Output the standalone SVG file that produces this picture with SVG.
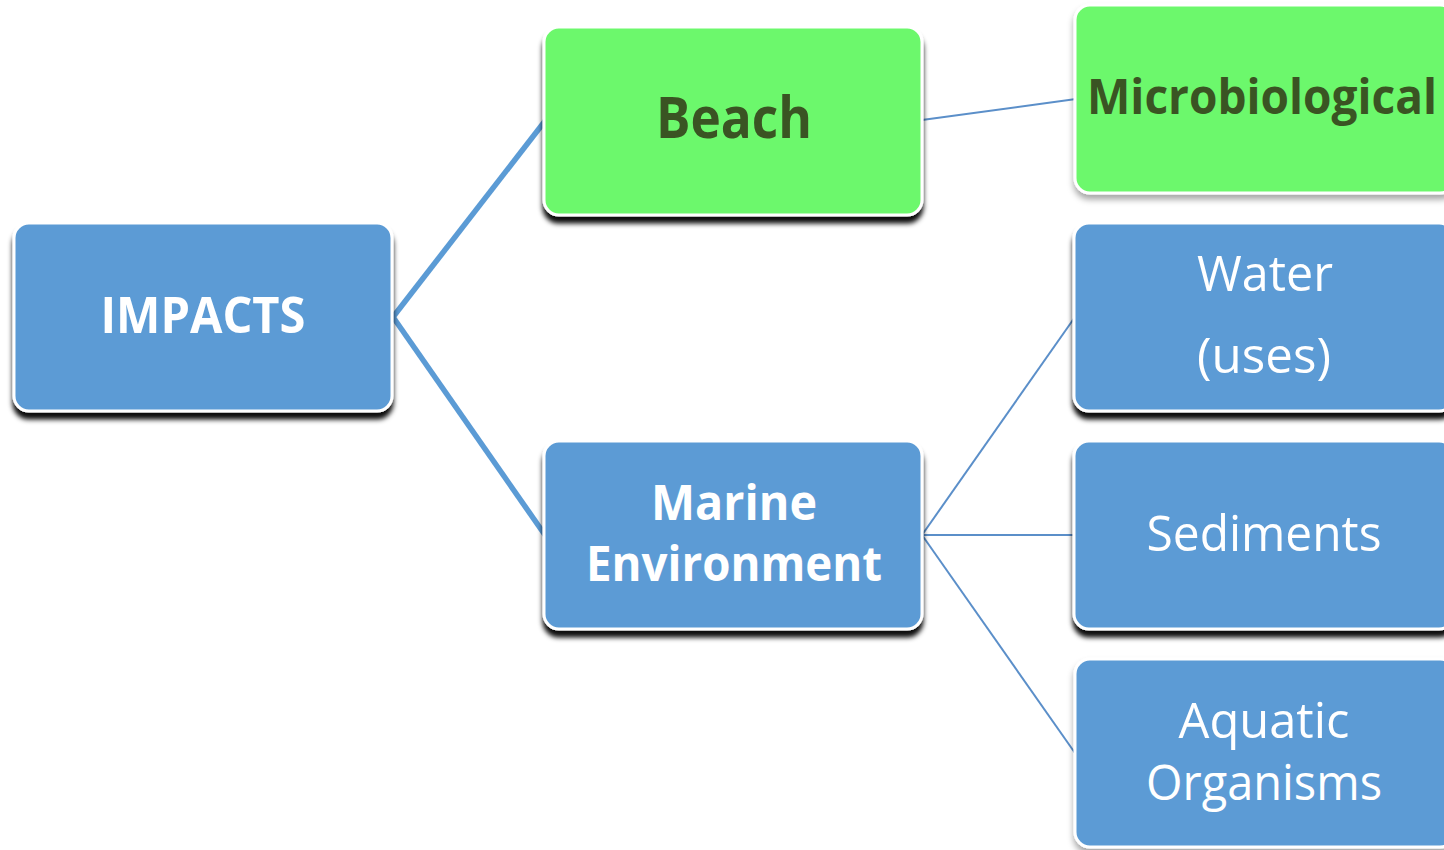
<svg xmlns="http://www.w3.org/2000/svg" width="1444" height="850" viewBox="0 0 1444 850">
<defs>
<filter id="sh" x="-10%" y="-10%" width="120%" height="130%">
<feDropShadow dx="0" dy="7" stdDeviation="2.5" flood-color="#000" flood-opacity="0.95"/>
</filter>
<filter id="shl" x="-10%" y="-10%" width="120%" height="130%">
<feDropShadow dx="0" dy="5" stdDeviation="3" flood-color="#000" flood-opacity="0.35"/>
</filter>
</defs>
<style>
.blue{fill:#5B9BD5;stroke:#fff;stroke-width:3}
.green{fill:#6CF86C;stroke:#fff;stroke-width:3}
.tw{fill:#fff;font-family:"Open Sans","Liberation Sans",sans-serif;text-anchor:middle}
.tg{fill:#3A5423;font-family:"Open Sans","Liberation Sans",sans-serif;text-anchor:middle;font-weight:bold}
.b{font-weight:bold}
.thick{stroke:#5B9BD5;stroke-width:5.5;fill:none}
.thin{stroke:#5B8FC9;stroke-width:2;fill:none}
</style>
<rect width="1444" height="850" fill="#fff"/>
<g id="connectors">
<line class="thick" x1="393" y1="317" x2="545" y2="121"/>
<line class="thick" x1="393" y1="317" x2="545" y2="535"/>
<line class="thin" x1="922" y1="120" x2="1076" y2="99"/>
<line class="thin" x1="922" y1="535" x2="1075" y2="317"/>
<line class="thin" x1="922" y1="535" x2="1075" y2="535"/>
<line class="thin" x1="922" y1="535" x2="1075" y2="753"/>
</g>
<g id="impacts">
<rect class="blue" x="14" y="223" width="378" height="188" rx="15" filter="url(#sh)"/>
<text class="tw b" x="203" y="333" font-size="50" textLength="205" lengthAdjust="spacingAndGlyphs">IMPACTS</text>
</g>
<g id="beach">
<rect class="green" x="544" y="27" width="378" height="188" rx="15" filter="url(#sh)"/>
<text class="tg" x="734" y="138" font-size="58" textLength="156" lengthAdjust="spacingAndGlyphs">Beach</text>
</g>
<g id="marine">
<rect class="blue" x="544" y="441" width="378" height="188" rx="15" filter="url(#sh)"/>
<text class="tw b" x="734" y="520" font-size="48" textLength="166" lengthAdjust="spacingAndGlyphs">Marine</text>
<text class="tw b" x="734" y="581" font-size="48" textLength="296" lengthAdjust="spacingAndGlyphs">Environment</text>
</g>
<g id="microbiological">
<rect class="green" x="1075" y="5" width="380" height="188" rx="15" filter="url(#shl)"/>
<text class="tg" x="1262" y="114" font-size="49" textLength="350" lengthAdjust="spacingAndGlyphs">Microbiological</text>
</g>
<g id="water">
<rect class="blue" x="1074" y="223" width="380" height="188" rx="15" filter="url(#sh)"/>
<text class="tw" x="1265" y="291" font-size="49" textLength="136" lengthAdjust="spacingAndGlyphs">Water</text>
<text class="tw" x="1264" y="373" font-size="49" textLength="134" lengthAdjust="spacingAndGlyphs">(uses)</text>
</g>
<g id="sediments">
<rect class="blue" x="1074" y="441" width="380" height="188" rx="15" filter="url(#sh)"/>
<text class="tw" x="1264" y="551" font-size="49" textLength="235" lengthAdjust="spacingAndGlyphs">Sediments</text>
</g>
<g id="aquatic">
<rect class="blue" x="1075" y="659" width="380" height="188" rx="15" filter="url(#shl)"/>
<text class="tw" x="1264" y="738" font-size="49" textLength="171" lengthAdjust="spacingAndGlyphs">Aquatic</text>
<text class="tw" x="1264" y="800" font-size="49" textLength="236" lengthAdjust="spacingAndGlyphs">Organisms</text>
</g>
</svg>
